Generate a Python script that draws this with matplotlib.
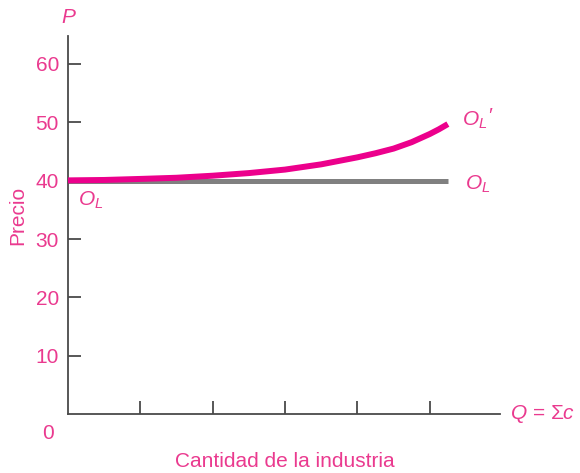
import matplotlib
matplotlib.use('Agg')
import matplotlib.pyplot as plt

plt.rcParams['font.family'] = ['Liberation Sans', 'DejaVu Sans']
plt.rcParams['mathtext.fontset'] = 'custom'
plt.rcParams['mathtext.rm'] = 'Liberation Sans'
plt.rcParams['mathtext.it'] = 'Liberation Sans:italic'

PINK = '#EA3A8F'
LINE_PINK = '#EC008C'
GREY = '#808080'
AXIS = '#4a4a4a'

# datos
q_ol = [0, 5.25]
p_ol = [40, 40]
q_olp = [0, 0.5, 1, 1.5, 2, 2.5, 3, 3.5, 4, 4.25, 4.5, 4.75, 5, 5.125, 5.25]
p_olp = [40.05, 40.12, 40.3, 40.5, 40.85, 41.3, 41.9, 42.8, 44.0, 44.7, 45.5, 46.6, 48.0, 48.8, 49.7]
y_ticks = [10, 20, 30, 40, 50, 60]
x_ticks = [1, 2, 3, 4, 5]

fig = plt.figure(figsize=(5.8, 4.73), dpi=100)
ax = fig.add_axes([0.1172, 0.1247, 0.7448, 0.7992])

# oferta de largo plazo (horizontal) y oferta con costos crecientes
ax.plot(q_ol, p_ol, color=GREY, lw=3.6, solid_capstyle='butt', zorder=2)
ax.plot(q_olp, p_olp, color=LINE_PINK, lw=4.3, solid_capstyle='butt',
        solid_joinstyle='round', zorder=3)

ax.set_xlim(0, 5.97)
ax.set_ylim(0, 64.8)
for s in ['top', 'right']:
    ax.spines[s].set_visible(False)
for s in ['left', 'bottom']:
    ax.spines[s].set_color(AXIS)
    ax.spines[s].set_linewidth(1.3)

ax.set_yticks(y_ticks)
ax.set_xticks(x_ticks)
ax.set_xticklabels([])
ax.tick_params(direction='in', length=9.5, width=1.3, color=AXIS)
ax.tick_params(axis='y', labelcolor=PINK, labelsize=15, pad=6.5)

kw = dict(color=PINK, fontsize=15, clip_on=False)
ax.text(0, 67.9, 'P', ha='center', va='center', style='italic', **kw)
ax.text(-0.28, -3.3, '0', ha='center', va='center', **kw)
ax.text(-0.69, 34.1, 'Precio', ha='center', va='center', rotation=90, **kw)
ax.text(3.0, -8.2, 'Cantidad de la industria', ha='center', va='center', **kw)
ax.text(6.11, 0, r'$Q$ = Σ$c$', ha='left', va='center', **kw)
ax.text(0.32, 36.7, r'$O_L$', ha='center', va='center', **kw)
ax.text(5.49, 39.3, r'$O_L$', ha='left', va='center', **kw)
ax.text(5.44, 50.4, r'$O_L$', ha='left', va='center', **kw)
ax.text(5.84, 51.0, '′', ha='center', va='center', **kw)

fig.savefig('out.png', dpi=100)
